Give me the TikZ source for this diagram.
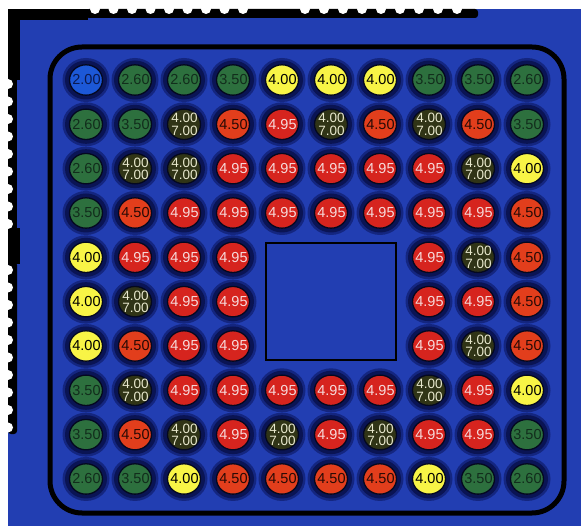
\documentclass[tikz,border=0pt]{standalone}
\usepackage{fontspec}
\newfontfamily\seatfont{Liberation Sans}
\definecolor{bgBlue}{RGB}{34,62,178}
\definecolor{haloSoft}{RGB}{20,38,128}
\definecolor{haloCore}{RGB}{10,20,84}
\definecolor{discLine}{RGB}{4,8,32}
\definecolor{cBlue}{RGB}{28,88,215}
\definecolor{tBlue}{RGB}{10,25,80}
\definecolor{cGreen}{RGB}{45,112,62}
\definecolor{tGreen}{RGB}{18,45,28}
\definecolor{cYellow}{RGB}{248,244,70}
\definecolor{cOlive}{RGB}{48,52,22}
\definecolor{tOlive}{RGB}{232,232,205}
\definecolor{cOrange}{RGB}{226,62,28}
\definecolor{tOrange}{RGB}{40,10,5}
\definecolor{cRed}{RGB}{214,36,30}
\definecolor{tRed}{RGB}{246,218,218}
\expandafter\def\csname seatlbla\endcsname{2.00}
\expandafter\def\csname seatlblb\endcsname{2.60}
\expandafter\def\csname seatlblc\endcsname{3.50}
\expandafter\def\csname seatlbld\endcsname{4.00}
\expandafter\def\csname seatlble\endcsname{4.00\\7.00}
\expandafter\def\csname seatlblf\endcsname{4.50}
\expandafter\def\csname seatlblg\endcsname{4.95}
\tikzset{
  seatlab/.style={inner sep=0pt, align=center, font=\seatfont\fontsize{14.5}{12.6}\selectfont},
  disc-a/.style={fill=cBlue}, lab-a/.style={text=tBlue},
  disc-b/.style={fill=cGreen}, lab-b/.style={text=tGreen},
  disc-c/.style={fill=cGreen}, lab-c/.style={text=tGreen},
  disc-d/.style={fill=cYellow}, lab-d/.style={text=black},
  disc-e/.style={fill=cOlive}, lab-e/.style={text=tOlive, font=\seatfont\fontsize{13.5}{12.4}\selectfont},
  disc-f/.style={fill=cOrange}, lab-f/.style={text=tOrange},
  disc-g/.style={fill=cRed}, lab-g/.style={text=tRed},
  discrim/.style={draw=discLine, line width=1.3pt},
  frame/.style={draw=black, line width=5pt, rounded corners=32pt},
  bump/.style={fill=white}
}
\begin{document}
\begin{tikzpicture}[x=1pt,y=-1pt]
\useasboundingbox (0,0) rectangle (581,526);
\fill[white] (0,0) rectangle (581,526);
\fill[bgBlue] (8,9) rectangle (581,526);
% top perforated edge
\fill[black] (8,9) rectangle (88,20);
\fill[black, rounded corners=3pt] (86,9) rectangle (478,18);
\foreach \k in {0,...,8} { \fill[bump] ({95+18.5*\k},9) circle (5pt); }
\foreach \k in {0,...,8} { \fill[bump] ({305+19*\k},9) circle (5pt); }
% left perforated edge
\fill[black] (8,9) rectangle (20,80);
\fill[black] (8,78) rectangle (17,230);
\fill[black] (8,228) rectangle (20,264);
\fill[black, rounded corners=3pt] (8,262) rectangle (17,434);
\foreach \k in {0,...,8} { \fill[bump] (8,{84+17.5*\k}) circle (5pt); }
\foreach \k in {0,...,9} { \fill[bump] (8,{270+17.5*\k}) circle (5pt); }
% frame
\draw[frame] (50,47) rectangle (564,513);
% centre block
\draw[black, line width=1.5pt] (266,243) rectangle (396,360);
% seats
\foreach \rowlist [count=\r from 0] in {
  {a,b,b,c,d,d,d,c,c,b},
  {b,c,e,f,g,e,f,e,f,c},
  {b,e,e,g,g,g,g,g,e,d},
  {c,f,g,g,g,g,g,g,g,f},
  {d,g,g,g,x,x,x,g,e,f},
  {d,e,g,g,x,x,x,g,g,f},
  {d,f,g,g,x,x,x,g,e,f},
  {c,e,g,g,g,g,g,e,g,d},
  {c,f,e,g,e,g,e,g,g,c},
  {b,c,d,f,f,f,f,d,c,b}} {
  \foreach \t [count=\c from 0] in \rowlist {
    \if\t x\else
      \pgfmathsetmacro{\px}{86+49*\c}
      \pgfmathsetmacro{\py}{80+44.33*\r}
      \fill[haloSoft] (\px,\py) ellipse [x radius=23.5pt, y radius=22pt];
      \fill[haloCore] (\px,\py) ellipse [x radius=21pt, y radius=19.5pt];
      \path[discrim, disc-\t] (\px,\py) ellipse [x radius=16.5pt, y radius=15.2pt];
      \node[seatlab, lab-\t] (s-\r-\c) at (\px+0.5,\py) {\csname seatlbl\t\endcsname};
    \fi
  }
}
\end{tikzpicture}
\end{document}
